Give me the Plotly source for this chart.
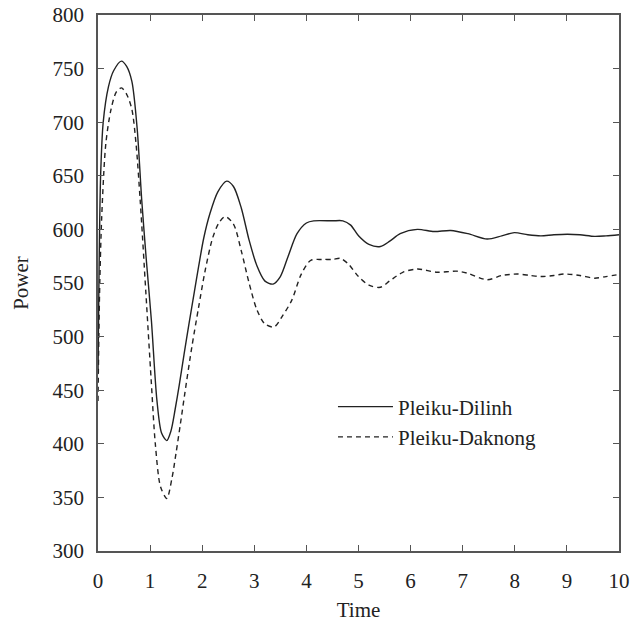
import plotly.graph_objects as go

# Pleiku-Dilinh (solid)
t_dilinh = [0, 0.02, 0.05, 0.1, 0.2, 0.3, 0.45, 0.55, 0.65, 0.75, 0.84, 0.93, 1.025, 1.13,
            1.22, 1.32, 1.4, 1.48, 1.56, 1.65, 1.75, 1.85, 1.93, 2.03, 2.15, 2.3, 2.47, 2.6,
            2.75, 2.9, 3.05, 3.2, 3.36, 3.5, 3.65, 3.82, 4.0, 4.14, 4.5, 4.7, 4.85, 5.0, 5.2,
            5.42, 5.6, 5.8, 6.13, 6.45, 6.77, 7.1, 7.47, 7.75, 7.99, 8.25, 8.5, 8.75, 9.01,
            9.25, 9.53, 9.75, 10]
p_dilinh = [465, 560, 650, 700, 733, 748, 757, 752, 738, 695, 627, 570, 515, 441,
            410, 403, 412, 432, 455, 483, 513, 542, 565, 592, 615, 635, 645, 640,
            620, 590, 566, 552, 549, 556, 575, 596, 606, 608, 608, 608, 604, 594, 586,
            584, 589, 596, 600, 598, 599, 596, 591, 594, 597, 595, 594, 595, 595.5,
            595, 593.5, 594, 595]

# Pleiku-Daknong (dashed)
t_daknong = [0, 0.03, 0.07, 0.15, 0.25, 0.35, 0.45, 0.55, 0.65, 0.73, 0.81, 0.92, 1.02, 1.1,
             1.2, 1.32, 1.42, 1.5, 1.58, 1.66, 1.8, 1.93, 2.05, 2.2, 2.32, 2.44, 2.6, 2.75,
             2.9, 3.05, 3.2, 3.38, 3.55, 3.72, 3.9, 4.08, 4.3, 4.5, 4.65, 4.8, 5.0, 5.2,
             5.42, 5.6, 5.85, 6.13, 6.51, 6.9, 7.1, 7.47, 7.75, 8.05, 8.3, 8.5, 8.75, 8.95,
             9.25, 9.53, 9.75, 10]
p_daknong = [440, 540, 610, 680, 712, 728, 732, 726, 712, 680, 627, 540, 460, 400,
             360, 349, 368, 392, 418, 445, 490, 527, 560, 592, 606, 612, 605, 580,
             550, 525, 512, 509, 520, 534, 558, 571, 572, 572, 573, 568, 556, 548,
             546, 552, 560, 563, 560, 561, 559, 553, 557, 558.4, 557, 556, 557, 558.4,
             557, 554.5, 556, 558]

x_ticks = [0, 1, 2, 3, 4, 5, 6, 7, 8, 9, 10]
y_ticks = [300, 350, 400, 450, 500, 550, 600, 650, 700, 750, 800]

FONT = "Liberation Serif, Times New Roman, serif"
FS = 21

fig = go.Figure()
fig.add_trace(go.Scatter(x=t_dilinh, y=p_dilinh, mode="lines", name="Pleiku-Dilinh",
                         line=dict(color="#222222", width=1.4, shape="spline", smoothing=0.8)))
fig.add_trace(go.Scatter(x=t_daknong, y=p_daknong, mode="lines", name="Pleiku-Daknong",
                         line=dict(color="#222222", width=1.4, dash="5px,4px",
                                   shape="spline", smoothing=0.8)))

axis_common = dict(showline=True, linecolor="#555555", linewidth=1.5, mirror="ticks",
                   ticks="inside", ticklen=6, tickcolor="#555555", tickwidth=1.2,
                   showgrid=False, zeroline=False, automargin=False,
                   tickfont=dict(family=FONT, size=FS, color="#222222"))

fig.update_layout(
    width=644, height=622,
    margin=dict(l=98, r=25, t=15, b=71),
    paper_bgcolor="white", plot_bgcolor="white",
    font=dict(family=FONT, size=FS, color="#222222"),
    xaxis=dict(range=[0, 10], tickvals=x_ticks, ticktext=[str(v) for v in x_ticks],
               ticklabelstandoff=10,
               title=dict(text="Time", font=dict(family=FONT, size=FS), standoff=12),
               **axis_common),
    yaxis=dict(range=[300, 800], tickvals=y_ticks, ticktext=[str(v) for v in y_ticks],
               ticklabelstandoff=8,
               title=dict(text="Power", font=dict(family=FONT, size=FS), standoff=18),
               **axis_common),
    legend=dict(x=0.451, y=0.307, xanchor="left", yanchor="top",
                bgcolor="rgba(0,0,0,0)", borderwidth=0,
                font=dict(family=FONT, size=FS, color="#222222"),
                itemwidth=55, tracegroupgap=0),
    showlegend=True,
)

fig.write_html("out.html")
